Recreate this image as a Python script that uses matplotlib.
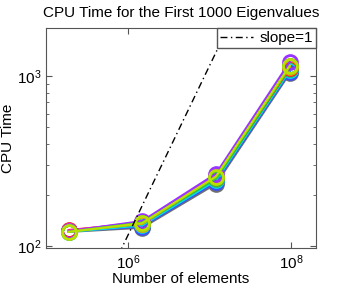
import numpy as np
import matplotlib.pyplot as plt

plt.rcParams['font.family'] = ['Liberation Sans', 'DejaVu Sans']
plt.rcParams['mathtext.fontset'] = 'custom'
plt.rcParams['mathtext.rm'] = 'Liberation Sans'

# number of elements per mesh level
n_elems = [1.9e5, 1.5e6, 1.2e7, 9.6e7]

# cpu time per run (one list per run)
t_grey = [121, 128, 232, 1040]
t_blue = [122, 130, 238, 1060]
t_cyan = [121, 132, 243, 1080]
t_teal = [123, 134, 248, 1100]
t_red = [124, 136, 252, 1120]
t_orange = [122, 135, 255, 1130]
t_magenta = [123, 138, 258, 1150]
t_purple = [122, 140, 266, 1210]
t_green = [121, 137, 250, 1140]
t_ygreen = [121, 136, 256, 1150]

runs = [t_grey, t_blue, t_cyan, t_teal, t_red, t_orange,
        t_magenta, t_purple, t_green, t_ygreen]
cols = ['#707070', '#3a4dff', '#00e5e5', '#19c37d', '#ff1a1a', '#ff9900',
        '#ff33cc', '#9933ff', '#33cc33', '#bbe000']

# reference line y = c*x
slope_c = 1.15e-4

fig = plt.figure(figsize=(3.49, 2.94), dpi=100)
ax = fig.add_axes([0.132, 0.156, 0.773, 0.749])

for t, c in zip(runs, cols):
    ax.plot(n_elems, t, '-o', color=c, lw=1.6, ms=10, mew=2, mfc='none')

sx = np.array([1e5, 1e8])
ax.plot(sx, slope_c * sx, color='k', lw=1, ls=(0, (5, 2.5, 1, 2.5)),
        label='slope=1')

ax.set_xscale('log')
ax.set_yscale('log')
ax.set_xlim(1e5, 2e8)
ax.set_ylim(97, 1920)
ax.set_xticks([1e6, 1e8])
ax.set_yticks([1e2, 1e3])
ax.xaxis.set_minor_locator(plt.NullLocator())

for s in ax.spines.values():
    s.set_color('#555555')
ax.tick_params(which='both', direction='in', top=True, right=True,
               colors='#555555', labelcolor='k', labelsize=11)
ax.tick_params(which='major', length=4)
ax.tick_params(which='minor', length=2.5)

ax.set_xlabel('Number of elements', fontsize=11, labelpad=0)
ax.set_ylabel('CPU Time', fontsize=11, labelpad=1)
ax.set_title('CPU Time for the First 1000 Eigenvalues', fontsize=11, pad=8)

leg = ax.legend(loc='upper right', fontsize=11, fancybox=False, framealpha=1,
                borderaxespad=0, handlelength=2.2, borderpad=0.2,
                handletextpad=0.4)
leg.get_frame().set_edgecolor('#555555')

fig.savefig('out.png', dpi=100)
